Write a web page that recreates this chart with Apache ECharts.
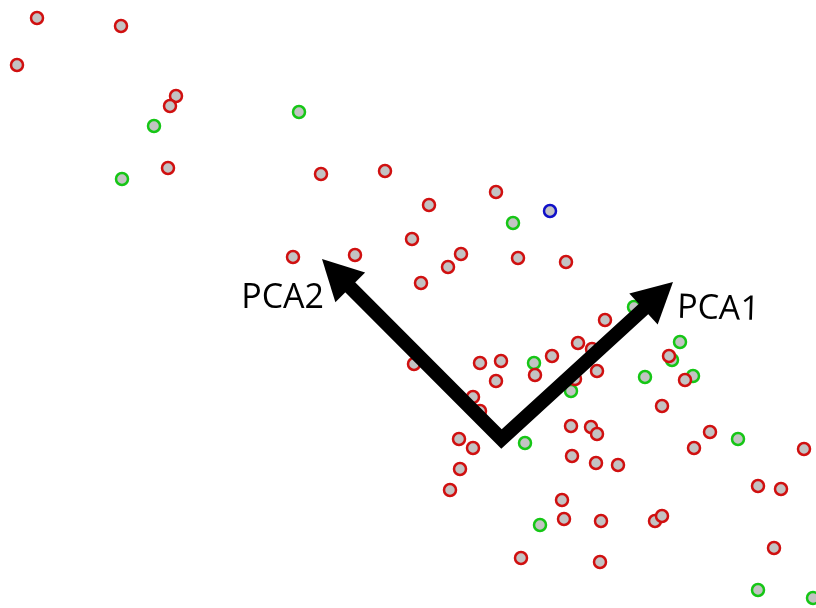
<!DOCTYPE html>
<html>
<head>
<meta charset="utf-8">
<title>PCA scatter</title>
<script src="https://cdn.jsdelivr.net/npm/echarts/dist/echarts.min.js"></script>
<style>
  html, body { margin: 0; padding: 0; background: #ffffff; }
  #chart { width: 816px; height: 608px; }
</style>
</head>
<body>
<div id="chart"></div>
<script>
// Sample scores, grouped by class (x, y)
const groupRed = [
  [-4.64, 4.20], [-3.80, 4.12], [-4.84, 3.73], [-3.25, 3.42], [-3.31, 3.32],
  [-3.33, 2.70], [-1.80, 2.64], [-1.16, 2.67], [-0.05, 2.46], [-0.72, 2.33],
  [-0.89, 1.99], [-2.08, 1.81], [-1.46, 1.83], [-0.40, 1.84], [-0.53, 1.71],
  [0.17, 1.80], [0.65, 1.76], [-0.80, 1.55], [1.04, 1.18], [0.77, 0.95],
  [0.91, 0.89], [0.51, 0.82], [1.68, 0.82], [-0.21, 0.75], [0.00, 0.77],
  [0.34, 0.63], [-0.05, 0.57], [0.96, 0.67], [0.74, 0.59], [1.84, 0.58],
  [-0.87, 0.74], [-0.28, 0.41], [-0.21, 0.27], [1.61, 0.32], [-0.42, -0.01],
  [-0.28, -0.10], [-0.41, -0.31], [-0.51, -0.52], [0.70, 0.12], [0.90, 0.11],
  [0.96, 0.04], [0.71, -0.18], [0.95, -0.25], [1.17, -0.27], [2.09, 0.06],
  [1.93, -0.10], [3.03, -0.11], [2.57, -0.48], [2.80, -0.51], [0.61, -0.62],
  [0.63, -0.81], [1.00, -0.83], [1.54, -0.83], [1.61, -0.78], [0.20, -1.20],
  [0.99, -1.24], [2.73, -1.10]
];
const groupGreen = [
  [-3.47, 3.12], [-2.02, 3.26], [-3.79, 2.59], [0.12, 2.15], [1.33, 1.31],
  [1.79, 0.96], [1.71, 0.78], [0.33, 0.75], [1.44, 0.61], [1.92, 0.62],
  [0.70, 0.47], [0.24, -0.05], [2.37, -0.01], [0.39, -0.87], [2.57, -1.52],
  [3.12, -1.60]
];
const groupBlue = [
  [0.49, 2.27]
];

// Principal component directions drawn from the origin
const pcaOrigin = [0.005, -0.01];
const pca1Tip = [1.72, 1.56];
const pca2Tip = [-1.79, 1.79];
const pcaNames = ['PCA1', 'PCA2'];

const chart = echarts.init(document.getElementById('chart'), null, { renderer: 'canvas' });

function markerSeries(name, data, border) {
  return {
    name: name,
    type: 'scatter',
    data: data,
    symbol: 'circle',
    symbolSize: 12,
    itemStyle: { color: '#c3c3c3', borderColor: border, borderWidth: 2.5, opacity: 1 },
    emphasis: { disabled: true },
    z: 2
  };
}

function arrowHead(tip, from, len, width) {
  const dx = tip[0] - from[0], dy = tip[1] - from[1];
  const d = Math.sqrt(dx * dx + dy * dy);
  const ux = dx / d, uy = dy / d;
  const px = -uy, py = ux;
  const bx = tip[0] - ux * len, by = tip[1] - uy * len;
  return {
    poly: [tip, [bx + px * width / 2, by + py * width / 2], [bx - px * width / 2, by - py * width / 2]],
    neck: [tip[0] - ux * (len - 4), tip[1] - uy * (len - 4)]
  };
}

const option = {
  animation: false,
  backgroundColor: '#ffffff',
  grid: { left: 0, right: 0, top: 0, bottom: 0 },
  xAxis: { type: 'value', min: -5.01, max: 3.15, show: false, splitLine: { show: false } },
  yAxis: { type: 'value', min: -1.70, max: 4.38, show: false, splitLine: { show: false } },
  series: [
    markerSeries('green', groupGreen, '#16c616'),
    markerSeries('red', groupRed, '#d01010'),
    markerSeries('blue', groupBlue, '#1010c8'),
    {
      type: 'custom',
      name: 'loadings',
      z: 10,
      silent: true,
      data: [[pcaOrigin[0], pcaOrigin[1], pca1Tip[0], pca1Tip[1], pca2Tip[0], pca2Tip[1]]],
      renderItem: function (params, api) {
        const o = api.coord([api.value(0), api.value(1)]);
        const t1 = api.coord([api.value(2), api.value(3)]);
        const t2 = api.coord([api.value(4), api.value(5)]);
        const h1 = arrowHead(t1, o, 40, 42);
        const h2 = arrowHead(t2, o, 40, 42);
        return {
          type: 'group',
          children: [
            {
              type: 'polyline',
              shape: { points: [h2.neck, o, h1.neck] },
              style: { stroke: '#000000', lineWidth: 14, fill: null, lineJoin: 'miter', miterLimit: 10 }
            },
            { type: 'polygon', shape: { points: h1.poly }, style: { fill: '#000000' } },
            { type: 'polygon', shape: { points: h2.poly }, style: { fill: '#000000' } },
            {
              type: 'text',
              x: t1[0] + 4, y: t1[1] + 26, rotation: -0.03,
              style: { text: pcaNames[0], fill: '#000000', font: '34px "Open Sans"', align: 'left', verticalAlign: 'middle' }
            },
            {
              type: 'text',
              x: t2[0] + 2, y: t2[1] + 39,
              style: { text: pcaNames[1], fill: '#000000', font: '34px "Open Sans"', align: 'right', verticalAlign: 'middle' }
            }
          ]
        };
      }
    }
  ]
};

chart.setOption(option);
</script>
</body>
</html>
